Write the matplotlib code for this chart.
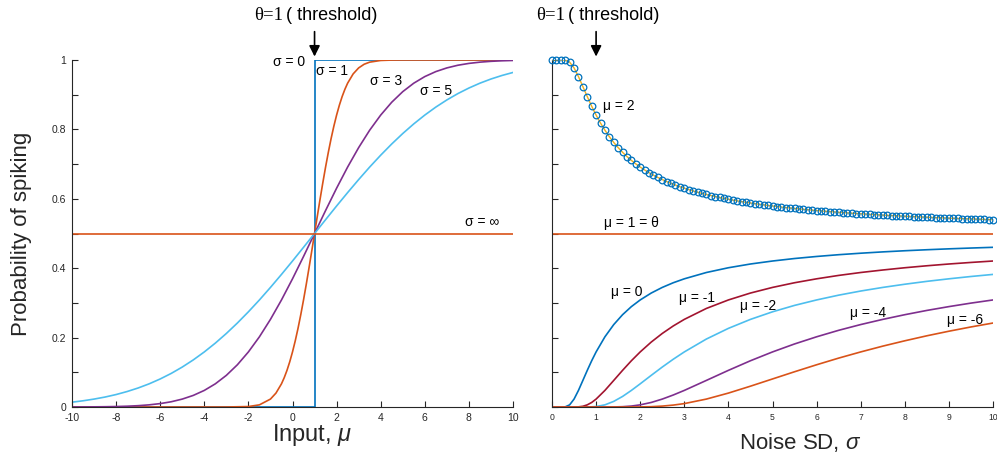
import matplotlib
matplotlib.use("Agg")
import matplotlib.pyplot as plt

plt.rcParams['font.family'] = ['Liberation Sans', 'DejaVu Sans']
plt.rcParams['mathtext.fontset'] = 'custom'
plt.rcParams['mathtext.it'] = 'Liberation Sans:italic'
plt.rcParams['mathtext.rm'] = 'Liberation Sans'
plt.rcParams['axes.unicode_minus'] = False

# ---------------- Left panel data: P(spike) vs input mu ----------------
mu_step = [-10, 1, 1, 10]
p_step = [0, 0, 1, 1]

mu_s1 = [-10, -3, -2, -1.5, -1, -0.75, -0.5, -0.375, -0.25, -0.125, 0, 0.125, 0.25, 0.375,
         0.5, 0.625, 0.75, 0.875, 1, 1.125, 1.25, 1.375, 1.5, 1.625, 1.75, 1.875, 2,
         2.125, 2.25, 2.375, 2.5, 2.75, 3, 3.25, 3.5, 4, 4.5, 5, 10]
p_s1 = [0.0, 0.00003, 0.0013, 0.0062, 0.0228, 0.0401, 0.0668, 0.0846, 0.1056, 0.1303, 0.1587,
        0.1908, 0.2266, 0.2660, 0.3085, 0.3538, 0.4013, 0.4503, 0.5, 0.5497, 0.5987, 0.6462,
        0.6915, 0.7340, 0.7734, 0.8092, 0.8413, 0.8697, 0.8944, 0.9154, 0.9332, 0.9599,
        0.9772, 0.9878, 0.9938, 0.99865, 0.99977, 0.99997, 1.0]

mu_grid = [-10, -9.5, -9, -8.5, -8, -7.5, -7, -6.5, -6, -5.5, -5, -4.5, -4, -3.5, -3, -2.5,
           -2, -1.5, -1, -0.5, 0, 0.5, 1, 1.5, 2, 2.5, 3, 3.5, 4, 4.5, 5, 5.5, 6, 6.5, 7,
           7.5, 8, 8.5, 9, 9.5, 10]
p_s3 = [0.00012, 0.00023, 0.00043, 0.00077, 0.00135, 0.0023, 0.0038, 0.0062, 0.0098, 0.0151,
        0.0228, 0.0334, 0.0478, 0.0668, 0.0912, 0.1217, 0.1587, 0.2023, 0.2525, 0.3085,
        0.3694, 0.4338, 0.5, 0.5662, 0.6306, 0.6915, 0.7475, 0.7977, 0.8413, 0.8783, 0.9088,
        0.9332, 0.9522, 0.9666, 0.9772, 0.9849, 0.9902, 0.9938, 0.9962, 0.9977, 0.99865]
p_s5 = [0.0139, 0.0179, 0.0228, 0.0287, 0.0359, 0.0446, 0.0548, 0.0668, 0.0808, 0.0968,
        0.1151, 0.1357, 0.1587, 0.1841, 0.2119, 0.2420, 0.2743, 0.3085, 0.3446, 0.3821,
        0.4207, 0.4602, 0.5, 0.5398, 0.5793, 0.6179, 0.6554, 0.6915, 0.7257, 0.7580, 0.7881,
        0.8159, 0.8413, 0.8643, 0.8849, 0.9032, 0.9192, 0.9332, 0.9452, 0.9554, 0.9641]
mu_inf = [-10, 10]
p_inf = [0.5, 0.5]

# ---------------- Right panel data: P(spike) vs noise SD sigma ----------------
sig_fine = [round(0.1 * i, 1) for i in range(101)]
p_mu2 = [1.0, 1.0, 1.0, 0.99957, 0.9938, 0.9772, 0.9522, 0.9234, 0.8944, 0.8667, 0.8413,
         0.8183, 0.7977, 0.7790, 0.7624, 0.7475, 0.7340, 0.7217, 0.7107, 0.7006, 0.6915,
         0.6830, 0.6752, 0.6681, 0.6615, 0.6554, 0.6497, 0.6444, 0.6394, 0.6348, 0.6306,
         0.6265, 0.6226, 0.6191, 0.6156, 0.6124, 0.6094, 0.6065, 0.6038, 0.6012, 0.5987,
         0.5963, 0.5941, 0.5919, 0.5899, 0.5879, 0.5860, 0.5842, 0.5825, 0.5808, 0.5793,
         0.5777, 0.5762, 0.5748, 0.5735, 0.5721, 0.5709, 0.5696, 0.5684, 0.5673, 0.5662,
         0.5651, 0.5641, 0.5631, 0.5621, 0.5611, 0.5602, 0.5593, 0.5585, 0.5576, 0.5568,
         0.5560, 0.5552, 0.5545, 0.5537, 0.5530, 0.5523, 0.5517, 0.5510, 0.5504, 0.5497,
         0.5491, 0.5485, 0.5479, 0.5474, 0.5468, 0.5463, 0.5457, 0.5452, 0.5447, 0.5442,
         0.5438, 0.5433, 0.5428, 0.5424, 0.5419, 0.5415, 0.5410, 0.5406, 0.5402, 0.5398]

sig_mu1 = [0, 10]
p_mu1 = [0.5, 0.5]

sig_lo = [0, 0.2, 0.3, 0.4, 0.5, 0.6, 0.7, 0.8, 0.9, 1.0, 1.2, 1.4, 1.6, 1.8, 2.0, 2.25, 2.5,
          2.75, 3.0, 3.5, 4.0, 4.5, 5.0, 5.5, 6.0, 6.5, 7.0, 7.5, 8.0, 8.5, 9.0, 9.5, 10.0]
p_mu0 = [0, 0, 0.00043, 0.0062, 0.0228, 0.0478, 0.0766, 0.1056, 0.1333, 0.1587, 0.2023,
         0.2375, 0.2660, 0.2893, 0.3085, 0.3284, 0.3446, 0.3581, 0.3694, 0.3876, 0.4013,
         0.4121, 0.4207, 0.4279, 0.4338, 0.4389, 0.4432, 0.4470, 0.4503, 0.4532, 0.4558,
         0.4581, 0.4602]
p_mum1 = [0, 0, 0, 0, 0.00003, 0.00043, 0.0021, 0.0062, 0.0131, 0.0228, 0.0478, 0.0766,
          0.1056, 0.1333, 0.1587, 0.1871, 0.2119, 0.2336, 0.2525, 0.2840, 0.3085, 0.3284,
          0.3446, 0.3581, 0.3694, 0.3792, 0.3876, 0.3948, 0.4013, 0.4070, 0.4121, 0.4166,
          0.4207]
p_mum2 = [0, 0, 0, 0, 0, 0, 0.00001, 0.00009, 0.00043, 0.00135, 0.0062, 0.0162, 0.0304,
          0.0478, 0.0668, 0.0912, 0.1151, 0.1377, 0.1587, 0.1958, 0.2266, 0.2525, 0.2743,
          0.2928, 0.3085, 0.3223, 0.3342, 0.3446, 0.3538, 0.3621, 0.3694, 0.3761, 0.3821]
p_mum4 = [0, 0, 0, 0, 0, 0, 0, 0, 0, 0, 0.00002, 0.00018, 0.0009, 0.0027, 0.0062, 0.0131,
          0.0228, 0.0346, 0.0478, 0.0766, 0.1056, 0.1333, 0.1587, 0.1817, 0.2023, 0.2210,
          0.2376, 0.2525, 0.2660, 0.2783, 0.2893, 0.2994, 0.3085]
p_mum6 = [0, 0, 0, 0, 0, 0, 0, 0, 0, 0, 0, 0, 0.00001, 0.00005, 0.00023, 0.0009, 0.0026,
          0.0055, 0.0098, 0.0228, 0.0401, 0.0600, 0.0808, 0.1016, 0.1217, 0.1409, 0.1587,
          0.1754, 0.1908, 0.2052, 0.2184, 0.2307, 0.2420]

left_labels = [("σ = 0", -0.16, 0.994), ("σ = 1", 1.79, 0.968), ("σ = 3", 4.24, 0.939),
               ("σ = 5", 6.51, 0.911), ("σ = ∞", 8.59, 0.533)]
right_labels = [("μ = 2", 1.52, 0.867), ("μ = 1 = θ", 1.79, 0.530), ("μ = 0", 1.70, 0.331),
                ("μ = -1", 3.29, 0.314), ("μ = -2", 4.67, 0.291), ("μ = -4", 7.17, 0.271),
                ("μ = -6", 9.37, 0.251)]

# ---------------- colours (MATLAB defaults) ----------------
BLUE = '#0072BD'; ORANGE = '#D95319'; YELLOW = '#EDB120'; PURPLE = '#7E2F8E'
LBLUE = '#4DBEEE'; DRED = '#A2142F'; AXC = '#262626'

W, H = 997, 457
fig = plt.figure(figsize=(W / 100, H / 100), dpi=100)
axL = fig.add_axes([72 / W, 1 - 407 / H, 441 / W, 347 / H])
axR = fig.add_axes([552 / W, 1 - 407 / H, 441 / W, 347 / H])

lw = 1.2
axL.plot(mu_step, p_step, color=BLUE, lw=lw)
axL.plot(mu_s1, p_s1, color=ORANGE, lw=lw)
axL.plot(mu_grid, p_s3, color=PURPLE, lw=lw)
axL.plot(mu_grid, p_s5, color=LBLUE, lw=lw)
axL.plot(mu_inf, p_inf, color=ORANGE, lw=lw)

axR.plot(sig_fine, p_mu2, color=YELLOW, lw=1.0, zorder=3)
axR.plot(sig_fine, p_mu2, linestyle='none', marker='o', ms=4.8, mfc='none', mec=BLUE,
         mew=0.9, zorder=4, clip_on=False)
axR.plot(sig_mu1, p_mu1, color=ORANGE, lw=lw)
axR.plot(sig_lo, p_mu0, color=BLUE, lw=lw)
axR.plot(sig_lo, p_mum1, color=DRED, lw=lw)
axR.plot(sig_lo, p_mum2, color=LBLUE, lw=lw)
axR.plot(sig_lo, p_mum4, color=PURPLE, lw=lw)
axR.plot(sig_lo, p_mum6, color=ORANGE, lw=lw)

for ax, ls in ((axL, 7.5), (axR, 6.2)):
    ax.set_ylim(0, 1)
    for s in ('top', 'right'):
        ax.spines[s].set_visible(False)
    for s in ('left', 'bottom'):
        ax.spines[s].set_color(AXC)
        ax.spines[s].set_linewidth(0.8)
    ax.tick_params(direction='in', length=4, width=0.8, colors=AXC, labelsize=ls, pad=4)
    ax.set_yticks([i / 10 for i in range(11)])

axL.set_xlim(-10, 10)
axL.set_xticks(list(range(-10, 11, 2)))
axL.set_yticklabels(['0', '', '0.2', '', '0.4', '', '0.6', '', '0.8', '', '1'])
axR.set_xlim(0, 10)
axR.set_xticks(list(range(0, 11)))
axR.set_yticklabels([])

axL.set_xlabel(r'Input, $\mu$', fontsize=17, color=AXC)
axL.xaxis.set_label_coords((312 - 72) / 441, -(435 - 407) / 347)
axL.xaxis.label.set_va('center')
axR.set_xlabel(r'Noise SD, $\sigma$', fontsize=16, color=AXC)
axR.xaxis.set_label_coords((800 - 552) / 441, -(442 - 407) / 347)
axR.xaxis.label.set_va('center')
axL.set_ylabel('Probability of spiking', fontsize=16, color=AXC)
axL.yaxis.set_label_coords(-(72 - 22) / 441, (407 - 234) / 347)
axL.yaxis.label.set_va('center')

for t, x, y in left_labels:
    axL.text(x, y, t, fontsize=10, ha='center', va='center', color='black')
for t, x, y in right_labels:
    axR.text(x, y, t, fontsize=10, ha='center', va='center', color='black')

# threshold annotations
for ax, xd, tx in ((axL, 1, 283), (axR, 1, 565)):
    fig.text(tx / W, 1 - 15 / H, 'θ=1', fontsize=13.5, ha='right', va='center',
             family=['Liberation Serif', 'DejaVu Serif'])
    fig.text((tx + 3) / W, 1 - 15 / H, '( threshold)', fontsize=13, ha='left', va='center')
    ax.annotate('', xy=(xd, 1.01), xycoords='data',
                xytext=(xd, 1 + 27 / 347 * 1.05), textcoords='data',
                arrowprops=dict(arrowstyle='-|>', color='black', lw=1.2, mutation_scale=16,
                                shrinkA=0, shrinkB=0), annotation_clip=False)

fig.savefig('out.png', dpi=100)
